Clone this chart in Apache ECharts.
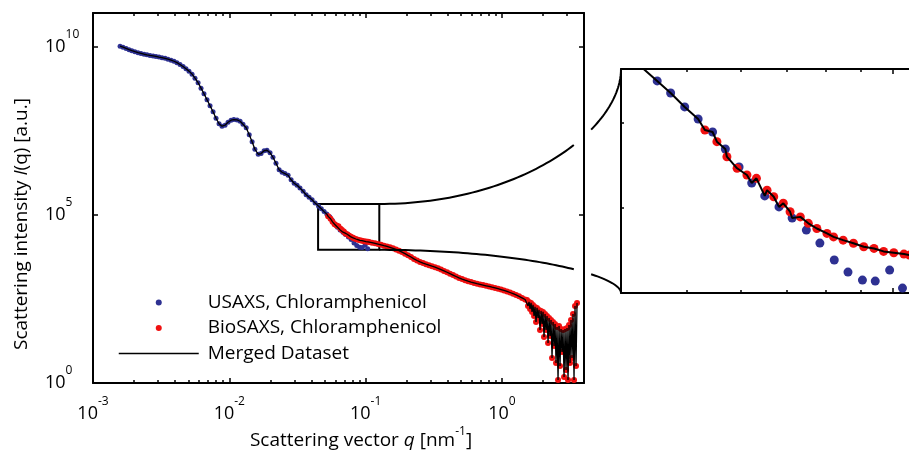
<!DOCTYPE html>
<html><head><meta charset="utf-8">
<script src="https://cdn.jsdelivr.net/npm/echarts@6/dist/echarts.min.js"></script>
<style>html,body{margin:0;padding:0;background:#fff}#c{width:909px;height:453px}</style>
</head><body><div id="c"></div>
<script>
// ---------------- data ----------------
const usaxsQ = [0.00158,0.00166,0.00175,0.00184,0.00193,0.00203,0.00214,0.00225,0.00237,0.00249,0.00262,0.00276,0.00290,0.00305,0.00321,0.00338,0.00355,0.00374,0.00393,0.00413,0.00435,0.00458,0.00481,0.00506,0.00533,0.00560,0.00590,0.00620,0.00652,0.00686,0.00722,0.00760,0.00799,0.00841,0.00884,0.00930,0.00979,0.0103,0.0108,0.0114,0.0120,0.0126,0.0133,0.0140,0.0147,0.0154,0.0163,0.0171,0.0180,0.0189,0.0199,0.0209,0.0220,0.0232,0.0244,0.0256,0.0270,0.0284,0.0299,0.0314,0.0330,0.0348,0.0366,0.0385,0.0405,0.0426,
  0.0452,0.0473,0.0496,0.0519,0.0545,0.0569,0.0596,0.0622,0.0650,0.0682,0.0713,0.0748,0.0783,0.0822,0.0861,0.0904,0.0944,0.0991,0.1035];
const usaxsI = [1.035e10,9.66e9,8.84e9,8.14e9,7.60e9,7.10e9,6.63e9,6.28e9,5.94e9,5.70e9,5.47e9,5.29e9,5.11e9,4.90e9,4.71e9,4.49e9,4.25e9,3.97e9,3.68e9,3.34e9,2.95e9,2.57e9,2.21e9,1.87e9,1.52e9,1.155e9,8.48e8,5.82e8,3.99e8,2.65e8,1.75e8,1.163e8,7.45e7,5.11e7,4.31e7,4.61e7,5.66e7,6.49e7,6.81e7,6.63e7,6.06e7,4.94e7,3.89e7,2.40e7,1.488e7,8.90e6,6.32e6,6.63e6,8.03e6,8.31e6,7.00e6,5.14e6,3.41e6,2.18e6,1.84e6,1.68e6,1.50e6,1.101e6,8.66e5,7.55e5,6.23e5,5.00e5,3.94e5,3.32e5,2.80e5,2.23e5,
  1.795e5,1.514e5,1.245e5,1.050e5,8.75e4,6.89e4,5.35e4,4.27e4,3.56e4,3.05e4,2.61e4,2.20e4,1.832e4,1.445e4,1.219e4,1.089e4,1.074e4,1.253e4,9.73e3];
const biosaxsQ = [0.0531,0.0553,0.0572,0.0592,0.0612,0.0632,0.0655,0.0670,0.0692,0.0708,0.0733,0.0753,0.0775,0.0802,0.0820,0.0847,0.0877,0.0908,0.0940,0.0971,0.1005,0.1040,0.1060,
  0.1114,0.1172,0.1233,0.1297,0.1364,0.1435,0.1510,0.1588,0.1671,0.1758,0.1849,0.1945,0.2046,0.2153,0.2265,0.2383,0.2507,0.2637,0.2774,0.2918,0.3070,0.3230,0.3398,0.3574,0.3760,0.3956,0.4161,0.4378,0.4605,0.4845,0.5097,0.5362,0.5641,0.5934,0.6243,0.6567,0.6909,0.7268,0.7646,0.8044,0.8462,0.8902,0.9365,0.9852,1.036,1.090,1.147,1.207,1.269,1.335,1.405,1.478,
  1.528,1.554,1.581,1.608,1.635,1.663,1.691,1.720,1.749,1.779,1.809,1.840,1.871,1.903,1.936,1.969,2.002,2.036,2.071,2.106,2.142,2.179,2.216,2.253,2.292,2.331,2.371,2.411,2.452,2.494,2.536,2.580,2.623,2.668,2.713,2.760,2.807,2.855,2.903,2.953,3.003,3.054,3.106,3.159,3.213,3.268,3.323,3.380,3.437,3.496,3.556];
const biosaxsI = [9.00e4,7.64e4,6.18e4,5.25e4,4.78e4,4.56e4,3.86e4,3.52e4,3.21e4,2.85e4,2.65e4,2.42e4,2.25e4,2.10e4,2.00e4,1.91e4,1.83e4,1.74e4,1.70e4,1.63e4,1.60e4,1.57e4,1.55e4,
  1.488e4,1.418e4,1.352e4,1.280e4,1.211e4,1.147e4,1.078e4,1.007e4,9.34e3,8.60e3,7.81e3,7.00e3,6.23e3,5.55e3,4.90e3,4.39e3,3.99e3,3.68e3,3.41e3,3.18e3,2.97e3,2.78e3,2.57e3,2.36e3,2.15e3,1.957e3,1.778e3,1.616e3,1.468e3,1.334e3,1.228e3,1.139e3,1.064e3,1.000e3,947,896,854,814,776,740,705,672,636,602,566,529,490,452,416,378,339,303,
  295,196,257,159,240,130,210,98.6,183,65.4,171,86.0,149,37.8,139,57.0,130,23.4,113,37.8,98.6,15.5,86.0,25.0,75.0,5.55,65.4,12.6,57.0,3.94,46.4,1.23,49.7,3.21,40.5,8.37,37.8,1.51,40.5,2.44,43.4,1.23,53.2,3.94,75.0,5.55,113,1.23,196,3.21,240];
const mergeCutQ = 0.072;           // merged dataset uses USAXS below this q
const seriesNames = ['USAXS, Chloramphenicol', 'BioSAXS, Chloramphenicol', 'Merged Dataset'];
const mainRangeQ = [0.001, 4];
const mainRangeI = [1, 1e11];
const xMajorTicks = [0.001, 0.01, 0.1, 1];
const yMajorTicks = [1, 1e5, 1e10];
const minorMantissas = [2, 3, 4, 5, 6, 7, 8, 9];
const zoomBoxQ = [0.0448, 0.126];
const zoomBoxI = [9100, 2.1e5];
const insetRangeQ = [0.04, 0.13];
const insetRangeI = [9080, 2.123e5];
const insetXMajor = [0.1];
const insetXMinor = [0.05, 0.06, 0.07, 0.08, 0.09];
const insetYTicks = [3e4, 1e5];

// ---------------- build ----------------
const usaxs = usaxsQ.map((q, i) => [q, usaxsI[i]]);
const biosaxs = biosaxsQ.map((q, i) => [q, biosaxsI[i]]);
const merged = usaxs.filter(d => d[0] < mergeCutQ).concat(biosaxs).sort((a, b) => a[0] - b[0]);
const xMinorTicks = [];
[0.001, 0.01, 0.1, 1].forEach(d => minorMantissas.forEach(m => { const v = +(m * d).toPrecision(3); if (v < mainRangeQ[1]) xMinorTicks.push(v); }));

const F = "'Open Sans', 'DejaVu Sans', sans-serif";
const BLUE = '#2e3192', RED = '#f01010';
const rich = {
  b: { fontFamily: F, fontSize: 18, lineHeight: 36, color: '#000' },
  s: { fontFamily: F, fontSize: 12, lineHeight: 14, verticalAlign: 'top', color: '#000' }
};
const expFmt = v => '{b|10}{s|' + Math.round(Math.log10(v)) + '}';
const lineStyle = { color: '#000', width: 2 };

function ax(extra) {
  return Object.assign({
    type: 'log', logBase: 10, splitLine: { show: false },
    axisLine: { show: false, onZero: false },
    axisTick: { show: false }, axisLabel: { show: false }
  }, extra);
}
function ticks(values, len) {
  return { show: true, inside: true, length: len, customValues: values, lineStyle: { color: '#000', width: 1.5 } };
}

const xAxis = [
  // main grid
  ax({ gridIndex: 0, position: 'bottom', min: mainRangeQ[0], max: mainRangeQ[1],
       axisLine: { show: true, onZero: false, lineStyle }, axisTick: ticks(xMajorTicks, 5),
       axisLabel: { show: true, customValues: xMajorTicks, formatter: expFmt, rich, margin: 13 } }),
  ax({ gridIndex: 0, position: 'bottom', min: mainRangeQ[0], max: mainRangeQ[1], axisTick: ticks(xMinorTicks, 3) }),
  ax({ gridIndex: 0, position: 'top', min: mainRangeQ[0], max: mainRangeQ[1],
       axisLine: { show: true, onZero: false, lineStyle }, axisTick: ticks(xMajorTicks, 5) }),
  ax({ gridIndex: 0, position: 'top', min: mainRangeQ[0], max: mainRangeQ[1], axisTick: ticks(xMinorTicks, 3) }),
  // inset grid
  ax({ gridIndex: 1, position: 'bottom', min: insetRangeQ[0], max: insetRangeQ[1],
       axisLine: { show: true, onZero: false, lineStyle }, axisTick: ticks(insetXMajor, 5) }),
  ax({ gridIndex: 1, position: 'bottom', min: insetRangeQ[0], max: insetRangeQ[1], axisTick: ticks(insetXMinor, 3) }),
  ax({ gridIndex: 1, position: 'top', min: insetRangeQ[0], max: insetRangeQ[1],
       axisLine: { show: true, onZero: false, lineStyle }, axisTick: ticks(insetXMajor, 5) }),
  ax({ gridIndex: 1, position: 'top', min: insetRangeQ[0], max: insetRangeQ[1], axisTick: ticks(insetXMinor, 3) })
];
const yAxis = [
  ax({ gridIndex: 0, position: 'left', min: mainRangeI[0], max: mainRangeI[1],
       axisLine: { show: true, onZero: false, lineStyle }, axisTick: ticks(yMajorTicks, 5),
       axisLabel: { show: true, customValues: yMajorTicks, formatter: expFmt, rich, align: 'left', margin: 48 } }),
  ax({ gridIndex: 0, position: 'right', min: mainRangeI[0], max: mainRangeI[1],
       axisLine: { show: true, onZero: false, lineStyle }, axisTick: ticks(yMajorTicks, 5) }),
  ax({ gridIndex: 1, position: 'left', min: insetRangeI[0], max: insetRangeI[1],
       axisLine: { show: true, onZero: false, lineStyle }, axisTick: ticks(insetYTicks, 3) }),
  ax({ gridIndex: 1, position: 'right', min: insetRangeI[0], max: insetRangeI[1],
       axisLine: { show: true, onZero: false, lineStyle }, axisTick: ticks(insetYTicks, 3) })
];

const series = [
  { name: seriesNames[0], type: 'scatter', xAxisIndex: 0, yAxisIndex: 0, data: usaxs, symbolSize: 5,
    itemStyle: { color: BLUE, opacity: 1 }, z: 2, silent: true },
  { name: seriesNames[1], type: 'scatter', xAxisIndex: 0, yAxisIndex: 0, data: biosaxs, symbolSize: 6,
    itemStyle: { color: RED, opacity: 1 }, z: 3, silent: true },
  { name: seriesNames[2], type: 'line', xAxisIndex: 0, yAxisIndex: 0, data: merged, showSymbol: false, symbol: 'none',
    lineStyle: { color: '#000', width: 1.3 }, itemStyle: { color: '#000' }, z: 4, silent: true,
    markArea: { silent: true, itemStyle: { color: 'rgba(0,0,0,0)', borderColor: '#000', borderWidth: 2 },
      data: [[{ coord: [zoomBoxQ[0], zoomBoxI[1]] }, { coord: [zoomBoxQ[1], zoomBoxI[0]] }]] } },
  { name: seriesNames[0], type: 'scatter', xAxisIndex: 4, yAxisIndex: 2, data: usaxs, symbolSize: 9,
    itemStyle: { color: BLUE, opacity: 1 }, z: 2, silent: true },
  { name: seriesNames[1], type: 'scatter', xAxisIndex: 4, yAxisIndex: 2, data: biosaxs, symbolSize: 9,
    itemStyle: { color: RED, opacity: 1 }, z: 3, silent: true },
  { name: seriesNames[2], type: 'line', xAxisIndex: 4, yAxisIndex: 2, data: merged, showSymbol: false, symbol: 'none',
    lineStyle: { color: '#000', width: 2 }, itemStyle: { color: '#000' }, z: 4, silent: true }
];

const option = {
  animation: false,
  backgroundColor: '#fff',
  grid: [
    { left: 93, top: 13, right: 325, bottom: 70, outerBoundsMode: 'none', containLabel: false },
    { left: 621, top: 69, width: 349, height: 224, outerBoundsMode: 'none', containLabel: false }
  ],
  xAxis, yAxis, series,
  legend: {
    left: 113, top: 288, orient: 'vertical', itemWidth: 80, itemHeight: 6, itemGap: 6.5,
    selectedMode: false,
    textStyle: { fontFamily: F, fontSize: 19, color: '#000', padding: [0, 0, 0, 4] },
    data: [{ name: seriesNames[0], icon: 'circle' }, { name: seriesNames[1], icon: 'circle' },
           { name: seriesNames[2], itemStyle: { opacity: 0 }, lineStyle: { color: '#000', width: 1.5, opacity: 1 } }]
  }
};

const chart = echarts.init(document.getElementById('c'), null, { renderer: 'canvas' });
chart.setOption(option);

// ---------------- decorations: titles + connector curves ----------------
const mainPx = v => chart.convertToPixel({ xAxisIndex: 0, yAxisIndex: 0 }, v);
const insetPx = v => chart.convertToPixel({ xAxisIndex: 4, yAxisIndex: 2 }, v);
const boxTR = mainPx([zoomBoxQ[1], zoomBoxI[1]]);
const boxBR = mainPx([zoomBoxQ[1], zoomBoxI[0]]);
const insTL = insetPx([insetRangeQ[0], insetRangeI[1]]);
const insBL = insetPx([insetRangeQ[0], insetRangeI[0]]);
const mainRight = mainPx([mainRangeQ[1], 1])[0];

function curve(P0, P3, kx, ky) {
  const P1 = [P0[0] + kx * (P3[0] - P0[0]), P0[1]];
  const P2 = [P3[0], P3[1] + ky * (P0[1] - P3[1])];
  const pts = [];
  for (let i = 0; i <= 80; i++) {
    const t = i / 80, u = 1 - t;
    pts.push([u*u*u*P0[0] + 3*u*u*t*P1[0] + 3*u*t*t*P2[0] + t*t*t*P3[0],
              u*u*u*P0[1] + 3*u*u*t*P1[1] + 3*u*t*t*P2[1] + t*t*t*P3[1]]);
  }
  const left = pts.filter(p => p[0] < mainRight - 8);
  const right = pts.filter(p => p[0] > mainRight + 7);
  return [left, right].map(seg => ({ type: 'polyline', shape: { points: seg }, silent: true, z: 10,
    style: { stroke: '#000', lineWidth: 2, fill: null } }));
}

const graphic = [].concat(
  curve(boxTR, insTL, 0.583, 0.452),
  curve(boxBR, insBL, 0.583, 0.42),
  [{
    type: 'text', x: 361, y: 441, silent: true,
    style: { text: '{n|Scattering vector }{i|q}{n| [nm}{s|-1}{n|]}', align: 'center', verticalAlign: 'middle',
      rich: { n: { fontFamily: F, fontSize: 19, lineHeight: 30, fill: '#000' },
              i: { fontFamily: F, fontSize: 19, fontStyle: 'italic', lineHeight: 30, fill: '#000' },
              s: { fontFamily: F, fontSize: 12, lineHeight: 14, verticalAlign: 'top', fill: '#000' } } }
  }, {
    type: 'text', x: 22, y: 224, rotation: Math.PI / 2, silent: true,
    style: { text: '{n|Scattering intensity }{i|I}{n|(q) [a.u.]}', align: 'center', verticalAlign: 'middle',
      rich: { n: { fontFamily: F, fontSize: 19, fill: '#000' },
              i: { fontFamily: F, fontSize: 19, fontStyle: 'italic', fill: '#000' } } }
  }]
);
chart.setOption({ graphic });
</script>
</body></html>
